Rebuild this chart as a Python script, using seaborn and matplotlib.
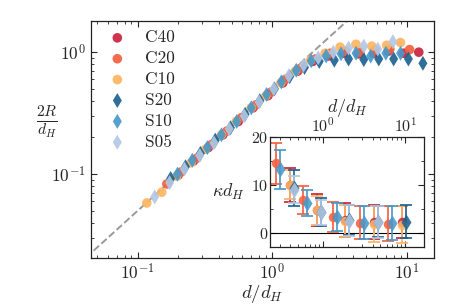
import numpy as np
import pandas as pd
import matplotlib
matplotlib.use('Agg')
import matplotlib.pyplot as plt
import seaborn as sns

# main panel data: 2R/d_H against d/d_H
c40_x = [0.20, 0.26, 0.335, 0.43, 0.56, 0.72, 0.93, 1.2, 1.55, 2.0, 2.6, 3.4, 4.4, 5.7, 7.3, 9.5, 12.3]
c40_y = [0.098, 0.128, 0.165, 0.21, 0.27, 0.35, 0.44, 0.56, 0.70, 0.84, 0.93, 0.98, 0.97, 0.98, 1.02, 0.98, 1.0]
c20_x = [0.165, 0.21, 0.275, 0.355, 0.46, 0.59, 0.76, 0.98, 1.26, 1.63, 2.1, 2.7, 3.5, 4.5, 5.8, 7.5, 10.5]
c20_y = [0.083, 0.104, 0.135, 0.175, 0.225, 0.29, 0.37, 0.47, 0.60, 0.74, 0.88, 0.98, 1.02, 1.0, 1.04, 1.06, 1.05]
c10_x = [0.117, 0.151, 0.195, 0.25, 0.32, 0.42, 0.54, 0.70, 0.90, 1.16, 1.49, 1.93, 2.48, 3.2, 4.2, 5.5, 7.1, 9.0]
c10_y = [0.058, 0.071, 0.096, 0.124, 0.16, 0.21, 0.27, 0.35, 0.44, 0.56, 0.70, 0.86, 0.98, 1.10, 1.16, 1.12, 1.14, 1.2]
s20_x = [0.176, 0.227, 0.293, 0.378, 0.49, 0.63, 0.81, 1.04, 1.35, 1.74, 2.24, 2.9, 3.7, 4.8, 6.2, 8.0, 10.3, 13.2]
s20_y = [0.092, 0.115, 0.148, 0.19, 0.24, 0.31, 0.40, 0.50, 0.63, 0.75, 0.84, 0.86, 0.88, 0.87, 0.88, 0.88, 0.88, 0.81]
s10_x = [0.198, 0.255, 0.33, 0.42, 0.545, 0.70, 0.91, 1.17, 1.51, 1.95, 2.52, 3.25, 4.2, 5.4, 7.0, 9.0]
s10_y = [0.10, 0.13, 0.165, 0.21, 0.27, 0.35, 0.45, 0.57, 0.71, 0.85, 0.93, 0.97, 0.98, 0.93, 0.98, 0.98]
s05_x = [0.134, 0.173, 0.223, 0.29, 0.37, 0.48, 0.62, 0.80, 1.03, 1.33, 1.71, 2.2, 2.85, 3.7, 4.8, 6.1, 7.9]
s05_y = [0.065, 0.085, 0.11, 0.142, 0.18, 0.235, 0.30, 0.39, 0.50, 0.64, 0.78, 0.90, 1.0, 1.08, 1.12, 1.06, 1.22]

# reference line 2R/d_H = d/(2 d_H)
guide_x = [0.01, 100.0]
guide_y = [0.005, 50.0]

# inset data: kappa d_H with error bars
in_c40_x = [0.396, 0.845, 1.85, 4.19, 9.19]
in_c40_y = [10.0, 4.8, 2.6, 2.2, 2.2]
in_c40_e = [3.6, 3.3, 3.5, 3.5, 3.4]
in_c20_x = [0.267, 0.570, 1.32, 2.83, 6.21]
in_c20_y = [14.5, 6.8, 3.3, 2.1, 1.9]
in_c20_e = [4.3, 3.0, 3.2, 3.5, 3.6]
in_c10_x = [0.396, 0.845, 1.85, 4.19, 9.19]
in_c10_y = [10.0, 4.7, 2.5, 1.8, 1.7]
in_c10_e = [3.0, 3.0, 3.3, 3.7, 3.8]
in_s20_x = [0.44, 0.95, 2.07, 4.69, 10.3]
in_s20_y = [9.3, 4.4, 2.6, 2.3, 2.3]
in_s20_e = [3.7, 2.9, 3.1, 3.3, 3.4]
in_s10_x = [0.30, 0.64, 1.48, 3.17, 6.96]
in_s10_y = [13.2, 6.2, 3.3, 2.1, 2.0]
in_s10_e = [4.0, 2.8, 3.0, 3.4, 3.5]
in_s05_x = [0.44, 0.95, 2.07, 4.69]
in_s05_y = [9.0, 4.3, 2.5, 2.2]
in_s05_e = [2.9, 2.6, 3.2, 3.3]

names = ['C40', 'C20', 'C10', 'S20', 'S10', 'S05']
colors = ['#c9233f', '#f4603f', '#fdb562', '#1e6390', '#4899c9', '#b3c7e3']
markers = ['o', 'o', 'o', 'd', 'd', 'd']

main_x = [c40_x, c20_x, c10_x, s20_x, s10_x, s05_x]
main_y = [c40_y, c20_y, c10_y, s20_y, s10_y, s05_y]
ins_x = [in_c40_x, in_c20_x, in_c10_x, in_s20_x, in_s10_x, in_s05_x]
ins_y = [in_c40_y, in_c20_y, in_c10_y, in_s20_y, in_s10_y, in_s05_y]
ins_e = [in_c40_e, in_c20_e, in_c10_e, in_s20_e, in_s10_e, in_s05_e]

sns.set_style('ticks')
plt.rcParams['font.family'] = ['cmr10', 'DejaVu Serif']
plt.rcParams['mathtext.fontset'] = 'cm'
plt.rcParams['axes.formatter.use_mathtext'] = True
plt.rcParams['font.size'] = 12
plt.rcParams['axes.unicode_minus'] = False

fig = plt.figure(figsize=(4.57, 3.05), dpi=100)
ax = fig.add_axes([0.199, 0.154, 0.751, 0.777])

ax.plot(guide_x, guide_y, ls='--', color='#9a9a9a', lw=1.4, zorder=1)

for i, nm in enumerate(names):
    df = pd.DataFrame({'x': main_x[i], 'y': main_y[i]})
    sns.scatterplot(data=df, x='x', y='y', ax=ax, color=colors[i], marker=markers[i],
                    s=48 if markers[i] == 'o' else 58, edgecolor='none', alpha=0.92,
                    label=nm, zorder=2)

ax.set_xscale('log')
ax.set_yscale('log')
ax.set_xlim(0.045, 16)
ax.set_ylim(0.0205, 1.8)
ax.tick_params(which='both', direction='in', top=True, right=True, labelsize=12.5)
ax.tick_params(which='major', length=4)
ax.tick_params(axis='x', which='major', pad=3)
ax.tick_params(which='minor', length=2)
ax.set_xlabel(r'$d/d_H$', fontsize=13.5, va='center')
ax.xaxis.set_label_coords(0.5, -0.152)
ax.set_ylabel(r'$\frac{2R}{d_H}$', fontsize=16, rotation=0, va='center')
ax.yaxis.set_label_coords(-0.13, 0.575)
ax.legend(loc='upper left', frameon=False, fontsize=12.5, handletextpad=0.6,
          labelspacing=0.32, borderaxespad=0.12)
for sp in ax.spines.values():
    sp.set_linewidth(0.9)
    sp.set_color('#222222')

# inset
axi = fig.add_axes([0.591, 0.190, 0.337, 0.361])
axi.axhline(0, color='k', lw=0.8, zorder=1)
for i, nm in enumerate(names):
    axi.errorbar(ins_x[i], ins_y[i], yerr=ins_e[i], fmt=markers[i], color=colors[i],
                 ms=6.8 if markers[i] == 'o' else 7.8, mec='none', elinewidth=1.4,
                 capsize=4.2, capthick=1.4, alpha=0.88, zorder=2)
axi.set_xscale('log')
axi.set_xlim(0.226, 17)
axi.set_ylim(-3, 20)
axi.set_yticks([0, 10, 20])
axi.set_yticks([5, 15], minor=True)
axi.xaxis.tick_top()
axi.xaxis.set_label_position('top')
axi.tick_params(which='both', direction='in', top=True, bottom=True, left=True, right=True,
                labelsize=11.5, pad=1.5)
axi.tick_params(which='major', length=4)
axi.tick_params(which='minor', length=2)
axi.set_xlabel(r'$d/d_H$', fontsize=13, va='center')
axi.xaxis.set_label_coords(0.5, 1.265)
axi.set_ylabel(r'$\kappa d_H$', fontsize=13, rotation=0, va='center', labelpad=16)
for sp in axi.spines.values():
    sp.set_linewidth(0.9)
    sp.set_color('#222222')

fig.savefig('out.png', dpi=100)
